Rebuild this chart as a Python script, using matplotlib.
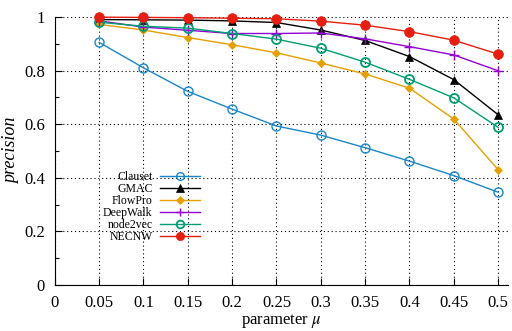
import numpy as np
import matplotlib
matplotlib.use('Agg')
import matplotlib.pyplot as plt
from matplotlib.ticker import MultipleLocator

plt.rcParams['font.family'] = ['Liberation Serif', 'DejaVu Serif']
plt.rcParams['mathtext.fontset'] = 'stix'

mu = [0.05, 0.1, 0.15, 0.2, 0.25, 0.3, 0.35, 0.4, 0.45, 0.5]
clauset = [0.905, 0.810, 0.722, 0.656, 0.593, 0.559, 0.512, 0.462, 0.408, 0.346]
gmac = [0.990, 0.989, 0.988, 0.985, 0.979, 0.951, 0.912, 0.852, 0.766, 0.635]
flowpro = [0.972, 0.951, 0.923, 0.896, 0.866, 0.828, 0.787, 0.734, 0.619, 0.430]
deepwalk = [0.985, 0.962, 0.950, 0.938, 0.938, 0.940, 0.918, 0.889, 0.858, 0.799]
node2vec = [0.980, 0.965, 0.958, 0.938, 0.917, 0.883, 0.831, 0.767, 0.698, 0.588]
necnw = [0.999, 0.998, 0.997, 0.995, 0.993, 0.984, 0.969, 0.945, 0.913, 0.861]

names = ['Clauset', 'GMAC', 'FlowPro', 'DeepWalk', 'node2vec', 'NECNW']
series = [clauset, gmac, flowpro, deepwalk, node2vec, necnw]
colors = ['#1a86c8', '#000000', '#e69f00', '#9400d3', '#009e73', '#e51e10']
styles = [
    dict(marker='o', ms=6.5, mfc='none', mew=1.0),
    dict(marker='^', ms=6, mew=0.5),
    dict(marker='D', ms=4.5, mew=0.5),
    dict(marker='+', ms=7, mew=1.0),
    dict(marker='o', ms=6.5, mfc='none', mew=1.3),
    dict(marker='o', ms=7, mew=0.5),
]

fig = plt.figure(figsize=(5.12, 3.31), dpi=100)
ax = fig.add_axes([0.107, 0.139, 0.885, 0.810])

for name, vals, c, st in zip(names, series, colors, styles):
    ax.plot(mu, vals, color=c, lw=1.0, label=name, clip_on=False, zorder=3, **st)

ax.set_xlim(0, 0.511)
ax.set_ylim(0, 1)
ax.set_xticks([0, 0.05, 0.1, 0.15, 0.2, 0.25, 0.3, 0.35, 0.4, 0.45, 0.5])
ax.set_xticklabels(['0', '0.05', '0.1', '0.15', '0.2', '0.25', '0.3', '0.35', '0.4', '0.45', '0.5'])
ax.set_yticks([0, 0.2, 0.4, 0.6, 0.8, 1])
ax.set_yticklabels(['0', '0.2', '0.4', '0.6', '0.8', '1'])
ax.yaxis.set_minor_locator(MultipleLocator(0.1))
ax.tick_params(axis='both', which='major', direction='in', length=5, width=0.8, labelsize=12, pad=7)
ax.tick_params(axis='y', which='minor', direction='in', length=3, width=0.8)
ax.spines['top'].set_visible(False)
ax.spines['right'].set_visible(False)
ax.grid(True, which='major', color='black', linestyle=(0, (1, 2.5)), linewidth=0.8)

ax.set_xlabel(r'parameter $\mu$', fontsize=12, labelpad=1)
ax.set_ylabel('precision', fontsize=13, style='italic', labelpad=3)

ax.legend(loc='upper left', bbox_to_anchor=(0.088, 0.455), markerfirst=False, frameon=False,
          fontsize=8.5, handlelength=3.4, labelspacing=0.0, handletextpad=0.6, borderpad=0.2,
          markerscale=0.85)

fig.savefig('out.png', dpi=100)
